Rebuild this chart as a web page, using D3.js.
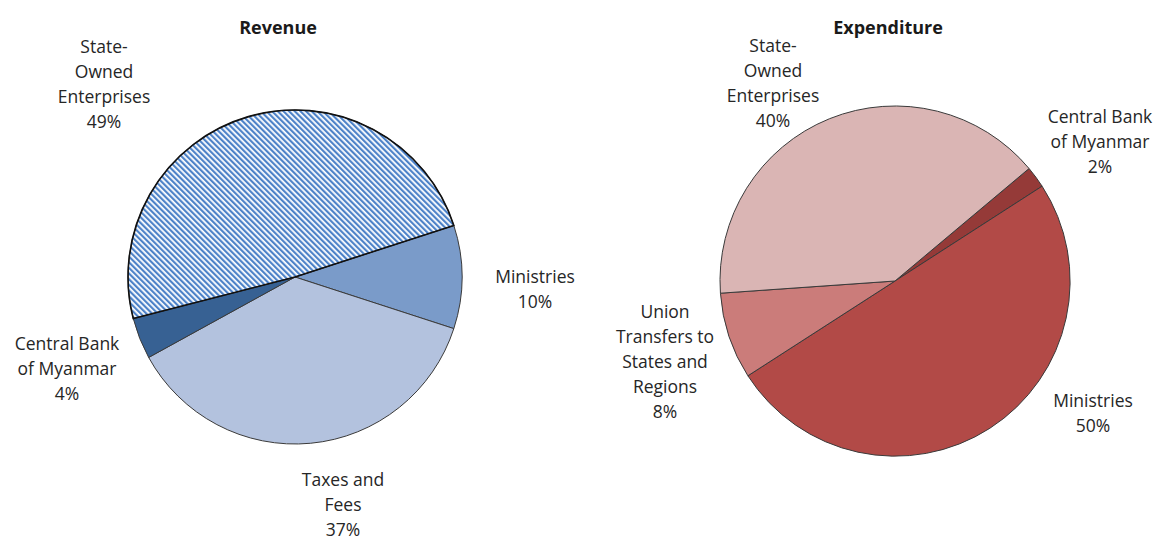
<!DOCTYPE html>
<html>
<head>
<meta charset="utf-8">
<title>Revenue and Expenditure</title>
<script src="https://d3js.org/d3.v7.min.js"></script>
<style>
  body { margin: 0; background: #fff; }
  svg { display: block; }
  .title { font-family: "Open Sans", sans-serif; font-weight: bold; font-size: 18px; fill: #1a1a1a; }
  .lbl { font-family: "Open Sans", sans-serif; font-size: 17.5px; fill: #262626; }
</style>
</head>
<body>
<svg id="chart" width="1158" height="541"></svg>
<script>
// data
var revenueLabels = [["Ministries"], ["Taxes and", "Fees"], ["Central Bank", "of Myanmar"], ["State-", "Owned", "Enterprises"]];
var revenueValues = [10, 37, 4, 49];
var expenditureLabels = [["Central Bank", "of Myanmar"], ["Ministries"], ["Union", "Transfers to", "States and", "Regions"], ["State-", "Owned", "Enterprises"]];
var expenditureValues = [2, 50, 8, 40];

// layout
var revColors = ["#7a9bc9", "#b3c2de", "#376193", "url(#hatch)"];
var expColors = ["#953a38", "#b24a47", "#cb7c7a", "#dab5b4"];
var revLabelPos = [[535, 283], [343, 486], [67, 350], [104, 53]];
var expLabelPos = [[1100, 123], [1093, 407], [665, 318], [773, 52]];

var svg = d3.select("#chart");

var defs = svg.append("defs");
var pat = defs.append("pattern")
    .attr("id", "hatch")
    .attr("patternUnits", "userSpaceOnUse")
    .attr("width", 4)
    .attr("height", 4)
    .attr("patternTransform", "rotate(-45)");
pat.append("rect").attr("width", 4).attr("height", 4).attr("fill", "#ffffff");
pat.append("rect").attr("x", 0).attr("width", 2.2).attr("height", 4).attr("fill", "#4d82c8");

function drawPie(cx, cy, r, startDeg, values, labels, colors, labelPos, title, titleX) {
    var pie = d3.pie().sort(null)
        .startAngle(startDeg * Math.PI / 180)
        .endAngle((startDeg + 360) * Math.PI / 180);
    var arc = d3.arc().innerRadius(0).outerRadius(r);
    var g = svg.append("g").attr("transform", "translate(" + cx + "," + cy + ")");
    var arcs = pie(values);

    g.selectAll("path")
        .data(arcs)
        .enter()
        .append("path")
        .attr("d", arc)
        .attr("fill", function(d, i) { return colors[i]; })
        .attr("stroke", "#3a3a3a")
        .attr("stroke-width", 1)
        .attr("stroke-linejoin", "round");

    // hatched slice gets a heavier outline on top
    arcs.forEach(function(d, i) {
        if (colors[i].indexOf("url") === 0) {
            g.append("path").attr("d", arc(d)).attr("fill", "none")
                .attr("stroke", "#111").attr("stroke-width", 1.6);
        }
    });

    svg.append("text")
        .attr("class", "title")
        .attr("x", titleX)
        .attr("y", 34)
        .attr("text-anchor", "middle")
        .text(title);

    labels.forEach(function(lines, i) {
        var all = lines.concat([values[i] + "%"]);
        var t = svg.append("text")
            .attr("class", "lbl")
            .attr("text-anchor", "middle");
        all.forEach(function(s, j) {
            t.append("tspan")
                .attr("x", labelPos[i][0])
                .attr("y", labelPos[i][1] + j * 25)
                .text(s);
        });
    });
}

drawPie(295, 277, 167, 72, revenueValues, revenueLabels, revColors, revLabelPos, "Revenue", 278);
drawPie(895, 281, 175, 50, expenditureValues, expenditureLabels, expColors, expLabelPos, "Expenditure", 888);
</script>
</body>
</html>
